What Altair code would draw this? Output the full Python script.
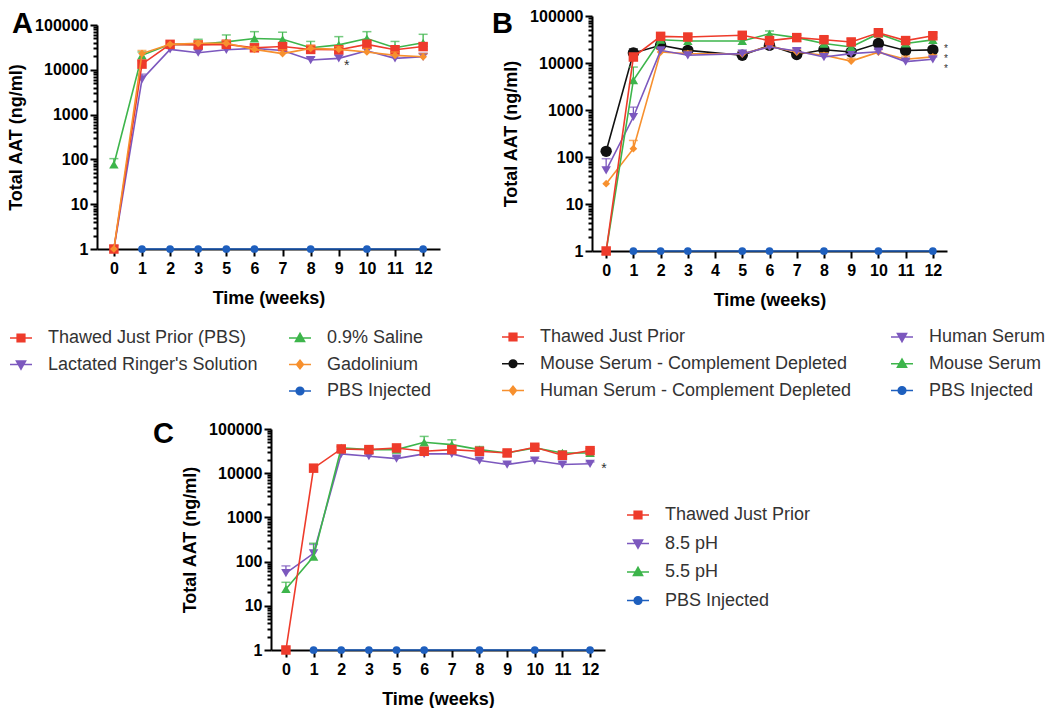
import altair as alt
import pandas as pd

# ---------------- data ----------------
WEEKS = [0, 1, 2, 3, 5, 6, 7, 8, 9, 10, 11, 12]
PBS_WEEKS = [1, 2, 3, 5, 6, 8, 10, 12]
PBS_VALUES = [1, 1, 1, 1, 1, 1, 1, 1]
X_DOMAIN_AC = ["0", "1", "2", "3", "5", "6", "7", "8", "9", "10", "11", "12"]
X_DOMAIN_B = ["0", "1", "2", "3", "4", "5", "6", "7", "8", "9", "10", "11", "12"]
Y_MAJOR = [1, 10, 100, 1000, 10000, 100000]
Y_TICKS = [m * d for d in [1, 10, 100, 1000, 10000] for m in range(1, 10)] + [100000]

# Panel A
A_THAWED = [1, 13400, 37000, 36000, 37000, 31000, 33000, 28500, 28000, 37000, 28000, 33000]
A_THAWED_ERR = [None, 16000, None, 42000, 45000, 36000, 40000, 33000, 33000, 45000, 34000, 38000]
A_SALINE = [77, 21000, 37000, 37000, 42000, 50000, 48000, 31000, 36000, 50000, 31000, 40000]
A_SALINE_ERR = [104, 25000, None, 48000, 60000, 71000, 69000, 43000, 55000, 71000, 43000, 62000]
A_RINGER = [1, 6100, 28600, 24000, 28000, 30000, 27000, 16500, 18000, 26500, 18000, 19500]
A_RINGER_ERR = [None, 8000, None, 28000, 32000, 34000, 31000, 19000, 21000, 30000, 21000, 23000]
A_GAD = [1, 23000, 37000, 39000, 39000, 28600, 23000, 30000, 28600, 25000, 21000, 19500]
A_GAD_ERR = [None, 27000, None, 44000, 45000, 33000, 28000, 35000, 33000, 30000, 25000, 23000]
A_NOTE_WEEK = ["9"]
A_NOTE_VALUE = [14500]
A_NOTE_TEXT = ["*"]

# Panel B
B_THAWED = [1, 13400, 36900, 35700, 38800, 30000, 34700, 31300, 28000, 44000, 30000, 38000]
B_THAWED_ERR = [None, 16000, 42000, 41000, 44000, 35000, 39000, 36000, 33000, 50000, 35000, 44000]
B_MSCD = [132, 16300, 23800, 18600, 14600, 23800, 15200, 19200, 17100, 26000, 18500, 19000]
B_MSCD_ERR = [None, 20000, 27000, 21000, 17000, 27000, 18000, 22000, 20000, 30000, 21000, 21500]
B_HSCD = [27, 150, 17100, 15800, 15500, 22600, 17100, 14600, 11000, 17000, 12000, 13500]
B_HSCD_ERR = [None, 225, 19500, 18000, 17500, 25000, 19500, 16500, 12500, 19500, 14000, 15000]
B_HS = [52, 710, 18600, 14600, 15800, 21900, 18000, 13400, 15800, 17400, 10700, 12000]
B_HS_ERR = [92, 1150, 21000, 16500, 18000, 25000, 20500, 15500, 18000, 19500, 12000, 13500]
B_MS = [1, 4300, 31300, 29400, 29400, 41800, 34700, 25900, 21900, 42000, 26000, 31000]
B_MS_ERR = [None, 8200, 35000, 33000, 34000, 48000, 39000, 29000, 25000, 46000, 29000, 35000]
B_NOTE_WEEK = ["12"]
B_NOTE_VALUE = [22500]
B_NOTE_TEXT = ["*\n*\n*"]

# Panel C
C_THAWED = [1, 13000, 35400, 34200, 37300, 31300, 34200, 31300, 28700, 38600, 25500, 32400]
C_THAWED_ERR = [None, None, 39000, 38000, 42000, 35000, 39000, 35000, 32000, 44000, 29000, 36000]
C_PH85 = [55, 154, 27300, 24200, 21400, 27300, 27300, 19300, 15700, 19300, 15700, 16300]
C_PH85_ERR = [80, 245, 30000, 27000, 24000, 30000, 30000, 21500, 17500, 21500, 17500, 18000]
C_PH55 = [24, 130, 37300, 34200, 34200, 50000, 44300, 34200, 28700, 37300, 28700, 28700]
C_PH55_ERR = [34, 260, 41000, 38000, 38000, 68000, 57000, 40000, 32000, 42000, 32000, 32000]
C_NOTE_WEEK = ["12"]
C_NOTE_VALUE = [14800]
C_NOTE_TEXT = ["*"]

# Legends
LEG_A_LABELS = ["Thawed Just Prior (PBS)", "Lactated Ringer's Solution", "0.9% Saline", "Gadolinium", "PBS Injected"]
LEG_A_COLS = [0, 0, 1, 1, 1]
LEG_A_ROWS = [0, 1, 0, 1, 2]
LEG_B_LABELS = ["Thawed Just Prior", "Mouse Serum - Complement Depleted", "Human Serum - Complement Depleted",
                "Human Serum", "Mouse Serum", "PBS Injected"]
LEG_B_COLS = [0, 0, 0, 1, 1, 1]
LEG_B_ROWS = [0, 1, 2, 0, 1, 2]
LEG_C_LABELS = ["Thawed Just Prior", "8.5 pH", "5.5 pH", "PBS Injected"]
LEG_C_COLS = [0, 0, 0, 0]
LEG_C_ROWS = [0, 1, 2, 3]

# ---------------- styles ----------------
RED = "#EE3B2B"
GREEN = "#3DB54B"
PURPLE = "#7C58BE"
ORANGE = "#F7902E"
BLUE = "#1E5FBE"
BLACK = "#111111"
FONT = "Liberation Sans"

LINE = "M-1.1,0H1.1"
PATHS = {
    "square": LINE + "M-0.38,-0.38H0.38V0.38H-0.38Z",
    "triangle-up": LINE + "M0,-0.45L0.45,0.35H-0.45Z",
    "triangle-down": LINE + "M0,0.45L0.45,-0.35H-0.45Z",
    "diamond": LINE + "M0,-0.42L0.34,0L0,0.42L-0.34,0Z",
    "circle": LINE + "M-0.38,0A0.38,0.38,0,1,0,0.38,0A0.38,0.38,0,1,0,-0.38,0Z",
}

MAJOR_TEST = "indexof([1,10,100,1000,10000,100000], datum.value) >= 0"
Y_AXIS = alt.Axis(
    title="Total AAT (ng/ml)", values=Y_TICKS, format="d",
    labelExpr=MAJOR_TEST + " ? datum.label : ''",
    tickSize={"condition": {"test": MAJOR_TEST, "value": 7}, "value": 4},
    labelPadding=2, titlePadding=9, labelOverlap=False, labelFlush=False,
)


def make_x(domain, pad):
    return alt.X("week:O", scale=alt.Scale(type="point", domain=domain, padding=pad),
                 axis=alt.Axis(title="Time (weeks)", labelAngle=0, tickSize=7,
                               labelPadding=4, titlePadding=13))


def make_y(y_range):
    if y_range is None:
        sc = alt.Scale(type="log", domain=[1, 100000])
    else:
        sc = alt.Scale(type="log", domain=[1, 100000], range=y_range)
    return alt.Y("value:Q", scale=sc, axis=Y_AXIS), alt.Y("err:Q", scale=sc, axis=Y_AXIS)


def series_layers(x, y, y_err, weeks, values, errs, color, shape, size):
    df = pd.DataFrame({"week": [str(w) for w in weeks], "value": values})
    layers = [alt.Chart(df).mark_line(color=color, strokeWidth=1.6).encode(x=x, y=y)]
    if errs is not None:
        rows = [(str(w), v, e) for w, v, e in zip(weeks, values, errs) if e is not None]
        if rows:
            edf = pd.DataFrame(rows, columns=["week", "value", "err"])
            layers.append(alt.Chart(edf).mark_rule(color=color, strokeWidth=1.3)
                          .encode(x=x, y=y, y2=alt.Y2("err:Q")))
            layers.append(alt.Chart(edf).mark_tick(color=color, thickness=1.5, size=9)
                          .encode(x=x, y=y_err))
    layers.append(alt.Chart(df).mark_point(shape=shape, filled=True, size=size, color=color, opacity=1)
                  .encode(x=x, y=y))
    return layers


def panel(x, y_range, series, notes, note_dx, note_size, width, height, letter, lx, ly):
    y, y_err = make_y(y_range)
    layers = []
    for s in series:
        layers += series_layers(x, y, y_err, *s)
    ndf = pd.DataFrame({"week": notes[0], "value": notes[1], "t": notes[2]})
    layers.append(alt.Chart(ndf).mark_text(fontSize=note_size, color="#333333", dx=note_dx, dy=3,
                                           baseline="middle", lineBreak="\n", lineHeight=note_size)
                  .encode(x=x, y=y, text="t:N"))
    ldf = pd.DataFrame({"t": [letter]})
    layers.append(alt.Chart(ldf).mark_text(fontSize=29, fontWeight="bold", color="black",
                                           align="left", baseline="top")
                  .encode(x=alt.value(lx), y=alt.value(ly), text="t:N"))
    return alt.layer(*layers).properties(width=width, height=height)


def legend_chart(labels, cols, rows, colors, shapes, x0, col_gap, y0, row_gap, width, height):
    df = pd.DataFrame({"label": labels, "col": cols, "row": rows, "color": colors,
                       "path": [PATHS[s] for s in shapes]})
    x = alt.X("col:Q", scale=alt.Scale(domain=[0, 1], range=[x0, x0 + col_gap]), axis=None)
    y = alt.Y("row:Q", scale=alt.Scale(domain=[0, 1], range=[y0, y0 + row_gap]), axis=None)
    sym = alt.Chart(df).mark_point(filled=True, size=400, strokeWidth=1.6, opacity=1).encode(
        x=x, y=y, fill=alt.Fill("color:N", scale=None), stroke=alt.Stroke("color:N", scale=None),
        shape=alt.Shape("path:N", scale=None))
    txt = alt.Chart(df).mark_text(align="left", baseline="middle", dx=27, fontSize=18,
                                  color="#333333").encode(x=x, y=y, text="label:N")
    return alt.layer(sym, txt).properties(width=width, height=height)


def spacer(w, h):
    return alt.Chart(pd.DataFrame({"v": [0]})).mark_text(text="").encode(
        x=alt.value(0), y=alt.value(0)).properties(width=w, height=h)


# ---------------- panels ----------------
xA = make_x(X_DOMAIN_AC, 0.6)
plotA = panel(xA, [233, 9], [
    (PBS_WEEKS, PBS_VALUES, None, BLUE, "circle", 60),
    (WEEKS, A_RINGER, A_RINGER_ERR, PURPLE, "triangle-down", 90),
    (WEEKS, A_SALINE, A_SALINE_ERR, GREEN, "triangle-up", 90),
    (WEEKS, A_THAWED, A_THAWED_ERR, RED, "square", 90),
    (WEEKS, A_GAD, A_GAD_ERR, ORANGE, "diamond", 60),
], (A_NOTE_WEEK, A_NOTE_VALUE, A_NOTE_TEXT), 8, 14, 343, 233, "A", -85, -6)

xB = make_x(X_DOMAIN_B, 0.52)
plotB = panel(xB, None, [
    (PBS_WEEKS, PBS_VALUES, None, BLUE, "circle", 60),
    (WEEKS, B_MSCD, B_MSCD_ERR, BLACK, "circle", 130),
    (WEEKS, B_HSCD, B_HSCD_ERR, ORANGE, "diamond", 60),
    (WEEKS, B_HS, B_HS_ERR, PURPLE, "triangle-down", 90),
    (WEEKS, B_MS, B_MS_ERR, GREEN, "triangle-up", 90),
    (WEEKS, B_THAWED, B_THAWED_ERR, RED, "square", 90),
], (B_NOTE_WEEK, B_NOTE_VALUE, B_NOTE_TEXT), 13, 10, 355, 235, "B", -100, -6)

xC = make_x(X_DOMAIN_AC, 0.54)
plotC = panel(xC, None, [
    (PBS_WEEKS, PBS_VALUES, None, BLUE, "circle", 60),
    (WEEKS, C_PH85, C_PH85_ERR, PURPLE, "triangle-down", 90),
    (WEEKS, C_PH55, C_PH55_ERR, GREEN, "triangle-up", 90),
    (WEEKS, C_THAWED, C_THAWED_ERR, RED, "square", 90),
], (C_NOTE_WEEK, C_NOTE_VALUE, C_NOTE_TEXT), 14, 14, 334, 221, "C", -118, -9)

legA = legend_chart(LEG_A_LABELS, LEG_A_COLS, LEG_A_ROWS,
                    [RED, PURPLE, GREEN, ORANGE, BLUE],
                    ["square", "triangle-down", "triangle-up", "diamond", "circle"],
                    -76, 279, 31, 26.5, 300, 94)
legB = legend_chart(LEG_B_LABELS, LEG_B_COLS, LEG_B_ROWS,
                    [RED, BLACK, ORANGE, PURPLE, GREEN, BLUE],
                    ["square", "circle", "diamond", "triangle-down", "triangle-up", "circle"],
                    -79, 389, 28, 26.75, 300, 91)
legC = legend_chart(LEG_C_LABELS, LEG_C_COLS, LEG_C_ROWS,
                    [RED, PURPLE, GREEN, BLUE],
                    ["square", "triangle-down", "triangle-up", "circle"],
                    21, 100, 86, 28.5, 200, 183)

colA = alt.vconcat(plotA, legA, spacing=0)
colB = alt.vconcat(plotB, legB, spacing=0)
top_row = alt.hconcat(colA, colB, spacing=52)
bottom_row = alt.hconcat(spacer(46, 10), plotC, legC, spacing=10)

chart = alt.vconcat(top_row, bottom_row, spacing=19).properties(
    padding={"left": 6, "top": 8, "right": 0, "bottom": 0}
).configure(font=FONT).configure_view(stroke=None).configure_axis(
    domainColor="black", domainWidth=2, tickColor="black", tickWidth=2,
    labelColor="black", labelFont=FONT, labelFontSize=16, labelFontWeight="bold",
    titleColor="black", titleFont=FONT, titleFontSize=18, titleFontWeight="bold", grid=False,
)

chart.save("out.html", embed_options={"renderer": "svg", "actions": False})
